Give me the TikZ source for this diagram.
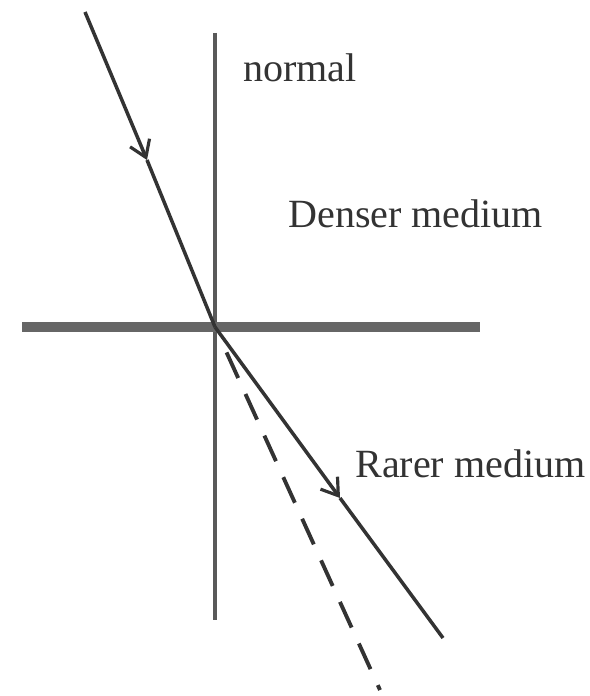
\documentclass[tikz,border=0pt]{standalone}
\usepackage{fontspec}
\setmainfont{Liberation Serif}
\usetikzlibrary{arrows.meta,calc}

\tikzset{
  ray/.style={draw=black!80, line width=2pt},
  raytip/.style={ray, -{Straight Barb[length=9pt, width=12pt, line width=1.8pt]}},
  medlabel/.style={anchor=base west, inner sep=0pt, text=black!80, font=\fontsize{22.8}{27}\selectfont}
}

\begin{document}
\begin{tikzpicture}[x=0.02cm, y=-0.02cm]
   \useasboundingbox (0,0) rectangle (590,696);
   \coordinate (O) at (215,327);
   \coordinate (nTop) at (215,33);
   \coordinate (nBot) at (215,620);
   \coordinate (sL) at (22,327);
   \coordinate (sR) at (480,327);
   \coordinate (inStart) at (85,12);
   \coordinate (inTip) at (147,160);
   \coordinate (outTip) at (340,498);
   \coordinate (outEnd) at (443,638);
   \coordinate (dashEnd) at (380,690);
   % normal and surface
   \draw[draw=black!65, line width=2.4pt] (nTop) -- (nBot);
   \draw[draw=black!60, line width=5.5pt] (sL) -- (sR);
   % rays
   \draw[raytip] (inStart) -- (inTip);
   \draw[ray] (inTip) -- (O);
   \draw[raytip] (O) -- (outTip);
   \draw[ray] (outTip) -- (outEnd);
   \draw[ray, line width=2.2pt, dash pattern=on 16pt off 10pt] ($(O)!0.07!(dashEnd)$) -- (dashEnd);
   % labels
   \node[medlabel] (normalLbl) at (243,82) {normal};
   \node[medlabel] (denserLbl) at (288,227) {Denser medium};
   \node[medlabel] (rarerLbl) at (355,477) {Rarer medium};
\end{tikzpicture}
\end{document}
